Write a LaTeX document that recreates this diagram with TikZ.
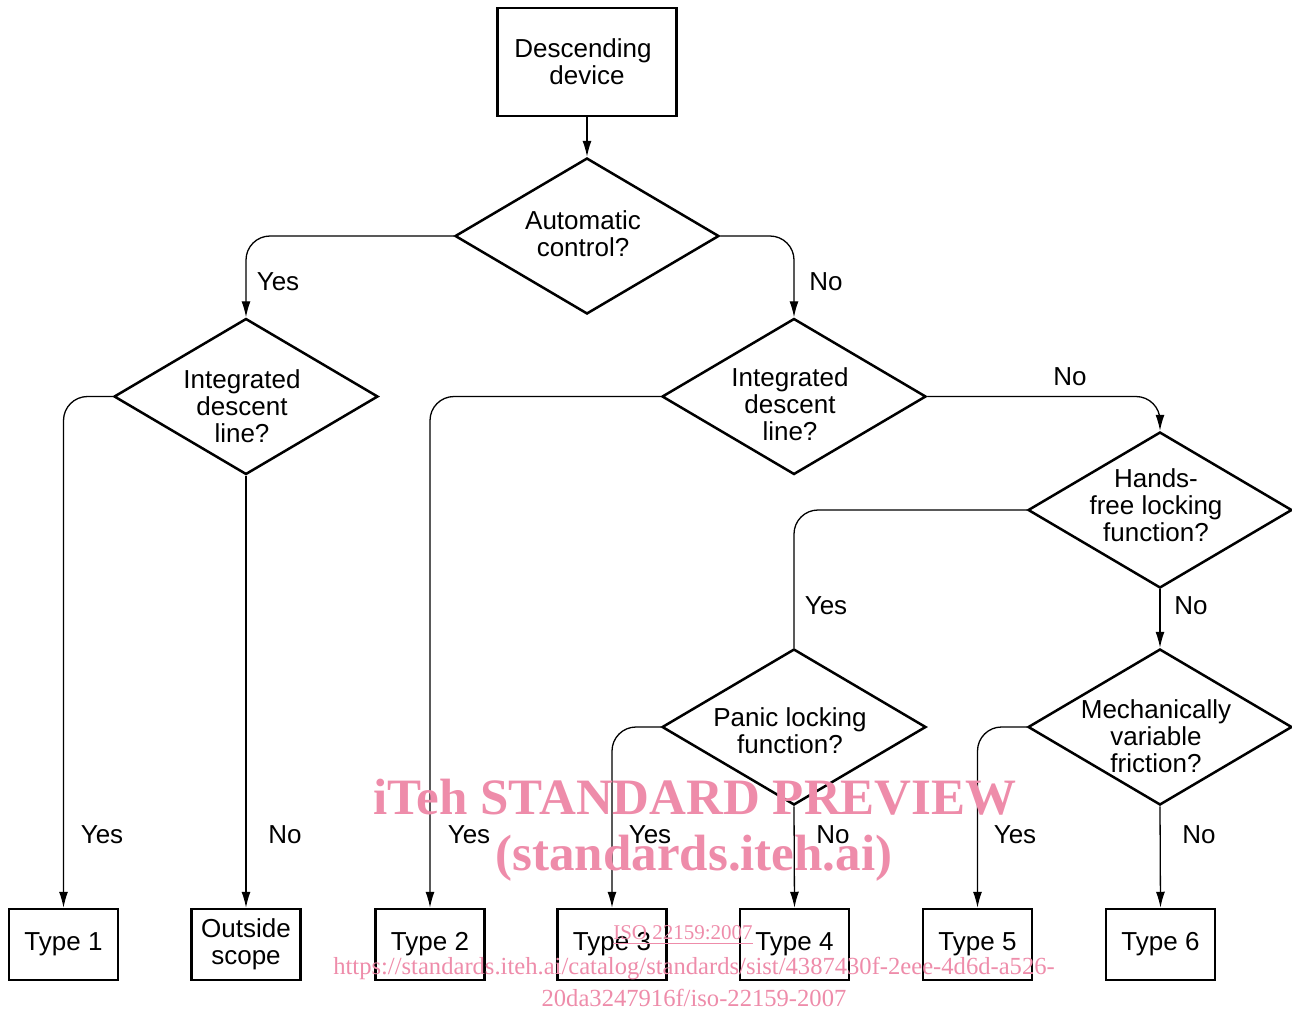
\documentclass[tikz,border=0pt]{standalone}
\usepackage{fontspec}
\setmainfont{Liberation Sans}
\newfontfamily\wmfont{Liberation Serif}
\usetikzlibrary{shapes.geometric, arrows.meta}
\definecolor{wmpink}{RGB}{238,140,170}

\begin{document}
\begin{tikzpicture}[x=0.5pt, y=-0.5pt,
    font=\fontsize{13}{13.5}\selectfont,
    box/.style={draw, line width=1.25pt, align=center, inner sep=0pt},
    decision/.style 2 args={draw, diamond, line width=1.25pt, inner sep=0pt,
        minimum width=132pt, minimum height=78pt,
        label={[align=center, xshift=-2pt, yshift=#2]center:#1}},
    link/.style={line width=0.65pt, rounded corners=12pt},
    flow/.style={link, -{Latex[length=8pt, width=4.5pt]}},
    answer/.style={inner sep=0pt},
    wmark/.style={text=wmpink, inner sep=0pt}]
\useasboundingbox (0,0) rectangle (1292,1014);

% Start
\node[box, minimum width=89.5pt, minimum height=54pt] (start) at (587,62) {\hspace*{-4pt}Descending\\device};

% Decisions
\node[decision={Automatic\\control?}{1pt}] (auto) at (587,236) {};
\node[decision={Integrated\\descent\\line?}{-5pt}] (intA) at (246,396.5) {};
\node[decision={Integrated\\descent\\line?}{-4pt}] (intB) at (794,396.5) {};
\node[decision={Hands-\\free locking\\function?}{2.5pt}] (hands) at (1160,510) {};
\node[decision={Panic locking\\function?}{-2pt}] (panic) at (794,727) {};
\node[decision={Mechanically\\variable\\friction?}{-4.5pt}] (mech) at (1160,727) {};

% Results
\foreach \name/\xx/\txt in {typeA/63.5/Type 1, outside/246/Outside\\scope, typeB/430/Type 2,
    typeC/612/Type 3, typeD/794.5/Type 4, typeE/977.5/Type 5, typeF/1160.5/Type 6}
  \node[box, minimum width=54.5pt, minimum height=35.5pt] (\name) at (\xx,944.5) {\txt};

% Connectors
\draw[flow] (start) -- (auto);
\draw[flow] (auto.west) -| (intA.north);
\draw[flow] (auto.east) -| (intB.north);
\draw[flow] (intA.west) -| (typeA.north);
\draw[flow] (intA.south) -- (outside.north);
\draw[flow] (intB.west) -| (typeB.north);
\draw[flow] (intB.east) -| (hands.north);
\draw[link] (hands.west) -| (panic.north);
\draw[flow] (hands.south) -- (mech.north);
\draw[flow] (panic.west) -| (typeC.north);
\draw[flow] (panic.south) -- (typeD.north);
\draw[flow] (mech.west) -| (typeE.north);
\draw[flow] (mech.south) -- (typeF.north);

% Answers
\node[answer] (autoYes) at (278,282) {Yes};
\node[answer] (autoNo) at (826,282) {No};
\node[answer] (intBNo) at (1070,377) {No};
\node[answer] (handsYes) at (826,606) {Yes};
\node[answer] (handsNo) at (1191,606) {No};
\node[answer] (intAYes) at (102,835) {Yes};
\node[answer] (intANo) at (285,835) {No};
\node[answer] (intBYes) at (469,835) {Yes};
\node[answer] (panicYes) at (650,835) {Yes};
\node[answer] (panicNo) at (833,835) {No};
\node[answer] (mechYes) at (1015,835) {Yes};
\node[answer] (mechNo) at (1199,835) {No};

% Watermark
\node[wmark, font=\wmfont\bfseries\fontsize{25.5}{25.5}\selectfont] (wmA) at (695,797) {iTeh STANDARD PREVIEW};
\node[wmark, font=\wmfont\bfseries\fontsize{25.5}{25.5}\selectfont] (wmB) at (694,858) {(standards.iteh.ai)};
\node[wmark, font=\wmfont\fontsize{10.5}{10.5}\selectfont] (wmC) at (683,935) {\underline{ISO 22159:2007}};
\node[wmark, font=\wmfont\fontsize{12.3}{12.3}\selectfont] (wmD) at (694,968) {https://standards.iteh.ai/catalog/standards/sist/4387430f-2eee-4d6d-a526-};
\node[wmark, font=\wmfont\fontsize{12.3}{12.3}\selectfont] (wmE) at (694,998) {20da3247916f/iso-22159-2007};
\end{tikzpicture}
\end{document}
